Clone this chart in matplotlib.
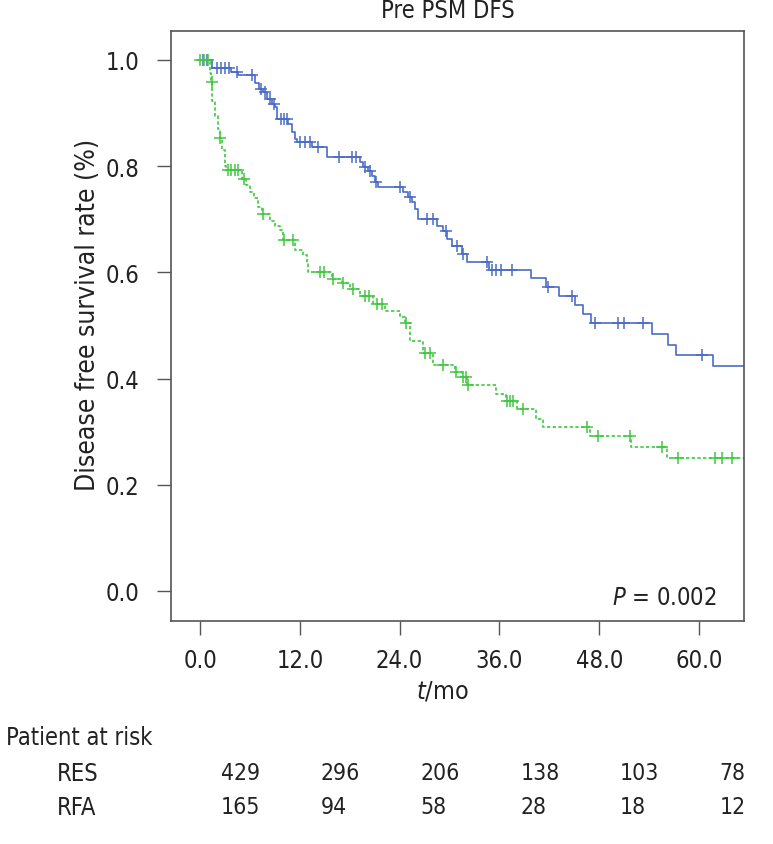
import numpy as np
import matplotlib
matplotlib.use("Agg")
import matplotlib.pyplot as plt
from matplotlib.transforms import blended_transform_factory

plt.rcParams['font.family'] = ['DejaVu Sans']
plt.rcParams['font.stretch'] = 'condensed'

# RES (blue) step curve: event times (months) and survival after each drop
res_t = [1.41, 3.73, 4.57, 6.61, 7.09, 7.57, 8.06, 8.66, 9.02, 9.26, 10.58, 11.06,
         11.42, 11.66, 13.47, 15.27, 19.24, 19.60, 20.20, 20.68, 21.04, 21.40,
         24.41, 25.01, 25.49, 25.85, 26.21, 28.50, 29.22, 29.70, 30.30, 31.50,
         32.10, 34.75, 39.80, 41.60, 43.17, 45.09, 46.05, 47.01, 54.35, 56.27,
         57.23, 61.68]
res_s = [0.985, 0.978, 0.971, 0.956, 0.945, 0.940, 0.927, 0.917, 0.911, 0.889,
         0.879, 0.864, 0.851, 0.845, 0.836, 0.817, 0.808, 0.798, 0.791, 0.782,
         0.770, 0.761, 0.751, 0.742, 0.733, 0.719, 0.700, 0.687, 0.678, 0.663,
         0.650, 0.635, 0.620, 0.605, 0.589, 0.572, 0.556, 0.539, 0.522, 0.505,
         0.484, 0.463, 0.444, 0.424]
res_cens = [0.4, 0.8, 2.04, 2.52, 3.01, 3.49, 4.45, 6.25, 7.33, 7.82, 8.42, 8.90,
            9.74, 10.10, 10.46, 12.02, 12.62, 13.23, 14.19, 16.71, 18.28, 18.76,
            19.84, 20.44, 21.16, 24.05, 25.25, 27.29, 28.01, 29.58, 30.90, 31.62,
            34.51, 35.11, 35.59, 36.19, 37.51, 41.84, 44.73, 47.49, 50.26, 50.98,
            53.26, 60.36]

# RFA (green) step curve
rfa_t = [1.20, 1.32, 1.50, 1.80, 2.16, 2.40, 2.65, 3.01, 3.13, 5.05, 5.55, 6.05,
         6.55, 7.00, 7.45, 8.42, 9.00, 9.62, 9.98, 11.42, 12.38, 12.87, 12.99,
         15.87, 17.07, 18.04, 19.24, 20.80, 22.24, 24.05, 24.65, 25.25, 26.81,
         28.01, 30.66, 31.50, 32.10, 35.59, 36.79, 38.11, 40.40, 41.24, 46.89,
         51.82, 56.15]
rfa_s = [0.975, 0.958, 0.923, 0.895, 0.870, 0.853, 0.830, 0.800, 0.793, 0.776,
         0.765, 0.752, 0.740, 0.724, 0.710, 0.697, 0.687, 0.679, 0.661, 0.642,
         0.632, 0.616, 0.600, 0.588, 0.580, 0.569, 0.556, 0.540, 0.528, 0.516,
         0.505, 0.471, 0.448, 0.426, 0.413, 0.403, 0.387, 0.371, 0.357, 0.343,
         0.324, 0.309, 0.291, 0.272, 0.250]
rfa_cens = [0.0, 0.48, 0.96, 1.44, 2.40, 3.37, 3.73, 4.21, 4.57, 5.29, 7.6, 10.10,
            11.18, 14.43, 14.91, 15.99, 17.19, 18.40, 19.84, 20.32, 21.28, 21.88,
            24.8, 27.05, 27.65, 29.22, 30.8, 31.62, 31.98, 32.22, 36.91, 37.27,
            37.63, 38.84, 46.53, 47.85, 51.70, 55.55, 57.47, 61.92, 62.76, 63.97]

xticks = [0, 12, 24, 36, 48, 60]
yticks = [0.0, 0.2, 0.4, 0.6, 0.8, 1.0]
risk_res = [429, 296, 206, 138, 103, 78]
risk_rfa = [165, 94, 58, 28, 18, 12]

x_end = 65.41
blue = '#4a6cc6'
green = '#40c840'
ink = '#222222'

fig = plt.figure(figsize=(7.73, 8.45), dpi=100)
ax = fig.add_axes([171 / 773, 1 - 621.7 / 845, 573 / 773, 589.7 / 845])


def curve(times, surv):
    t = np.concatenate([[0.0], times, [x_end]])
    s = np.concatenate([[1.0], surv, [surv[-1]]])
    return t, s


def level(t, s, c):
    idx = np.searchsorted(t, c, side='right') - 1
    return s[idx]


for times, surv, cens, col, ls in [
        (res_t, res_s, res_cens, blue, '-'),
        (rfa_t, rfa_s, rfa_cens, green, (0, (2, 1.4)))]:
    t, s = curve(times, surv)
    ax.step(t, s, where='post', color=col, lw=1.2, linestyle=ls)
    c = np.array(cens)
    ax.plot(c, level(t, s, c), linestyle='none', marker='+', ms=8,
            mew=1.1, color=col)

ax.set_xlim(-3.49, x_end)
ax.set_ylim(-0.056, 1.0546)
ax.set_xticks(xticks)
ax.set_xticklabels(['%.1f' % v for v in xticks])
ax.set_yticks(yticks)
ax.set_yticklabels(['%.1f' % v for v in yticks])
ax.tick_params(direction='out', length=10, width=1, color='#555555',
               labelsize=17, labelcolor=ink)
ax.tick_params(axis='y', pad=13)
ax.tick_params(axis='x', pad=10)
for sp in ax.spines.values():
    sp.set_color('#555555')
    sp.set_linewidth(1.2)

fig.text(448 / 773, 1 - 11 / 845, 'Pre PSM DFS', ha='center', va='center',
         fontsize=17, color=ink)
fig.text(88 / 773, 1 - 315 / 845, 'Disease free survival rate (%)',
         rotation=90, ha='center', va='center', fontsize=19, color=ink)
fig.text(442 / 773, 1 - 692 / 845, r'$\mathit{t}$/mo', ha='center', va='center',
         fontsize=18, color=ink)
ax.text(0.952, 0.04, r'$\mathit{P}$ = 0.002', transform=ax.transAxes,
        ha='right', va='center', fontsize=17, color=ink)

fig.text(6 / 773, 1 - 738 / 845, 'Patient at risk', ha='left', va='center',
         fontsize=17, color=ink)
fig.text(57 / 773, 1 - 774 / 845, 'RES', ha='left', va='center',
         fontsize=17, color=ink)
fig.text(57 / 773, 1 - 808 / 845, 'RFA', ha='left', va='center',
         fontsize=17, color=ink)
trans = blended_transform_factory(ax.transData, fig.transFigure)
for xv, a, b in zip(xticks, risk_res, risk_rfa):
    ax.text(xv + 2.5, 1 - 774 / 845, str(a), transform=trans, ha='left',
            va='center', fontsize=16.5, color=ink, clip_on=False)
    ax.text(xv + 2.5, 1 - 808 / 845, str(b), transform=trans, ha='left',
            va='center', fontsize=16.5, color=ink, clip_on=False)

fig.savefig('out.png', dpi=100)
